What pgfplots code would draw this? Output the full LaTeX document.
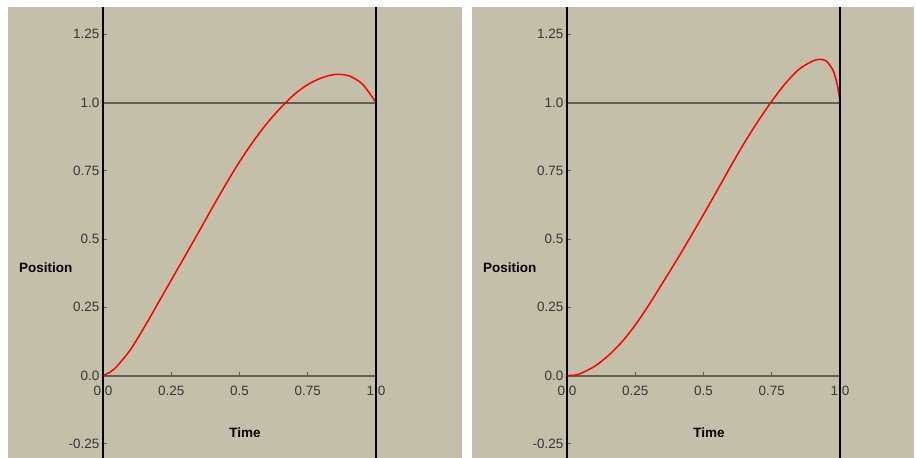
\documentclass[border=0pt]{standalone}
\usepackage{pgfplots}
\pgfplotsset{compat=1.18}
\usepackage{fontspec}
\setmainfont{Liberation Sans}
\definecolor{panelbg}{RGB}{195,191,168}
\definecolor{refline}{RGB}{95,95,85}
\definecolor{ticktext}{RGB}{55,55,55}
\definecolor{curvered}{RGB}{255,0,0}

\pgfplotsset{
 panel/.style={
  x=273pt, y=273pt,
  xmin=0, xmax=1, ymin=-0.302, ymax=1.3498,
  axis lines=middle,
  axis line style={-},
  x axis line style={draw=refline, line width=2pt},
  y axis line style={draw=black, line width=1.8pt},
  xtick={0,0.25,0.5,0.75,1},
  xticklabels={0.0,0.25,0.5,0.75,1.0},
  ytick={-0.25,0,0.25,0.5,0.75,1,1.25},
  yticklabels={-0.25,0.0,0.25,0.5,0.75,1.0,1.25},
  tick align=inside,
  major tick length=4pt,
  tick style={draw=refline, line width=1pt},
  ticklabel style={font=\fontsize{13.5}{16}\selectfont, text=ticktext},
  xticklabel style={yshift=-7pt},
  clip=false,
 },
}
\tikzset{
 zerolab/.style={font=\fontsize{13.5}{16}\selectfont, text=ticktext, inner sep=0.333em},
 axlab/.style={font=\bfseries\fontsize{13.5}{16}\selectfont},
}

\begin{document}
\begin{tikzpicture}
\useasboundingbox (0,0) rectangle (916pt,458pt);
\fill[panelbg] (8pt,0pt) rectangle (462pt,451pt);
\fill[panelbg] (472pt,0pt) rectangle (914pt,451pt);

% Left panel
\begin{axis}[panel, at={(103pt,0pt)}, anchor=south west]
 \addplot[refline, line width=2pt] coordinates {(0,1) (1,1)};
 \addplot[curvered, line width=1.5pt, smooth] coordinates {
  (0,0) (0.025,0.012) (0.05,0.033) (0.1,0.094) (0.15,0.175)
  (0.2,0.262) (0.25,0.35) (0.3,0.437) (0.35,0.525) (0.4,0.614) (0.45,0.701)
  (0.5,0.783) (0.55,0.857) (0.6,0.923) (0.65,0.98) (0.7,1.029) (0.75,1.066)
  (0.8,1.09) (0.85,1.103) (0.9,1.098) (0.95,1.068) (1.0,1.0)};
 \coordinate (La) at (axis cs:0,-0.302);
 \coordinate (Lb) at (axis cs:0,1.3498);
 \coordinate (Lc) at (axis cs:1,-0.302);
 \coordinate (Ld) at (axis cs:1,1.3498);
 \node[zerolab, anchor=east] at (axis cs:0,0) {0.0};
 \node[zerolab, anchor=north, yshift=-7pt] at (axis cs:0,0) {0.0};
 \node[axlab] at (axis cs:0.52,-0.21) {Time};
 \node[axlab] at (axis cs:-0.21,0.394) {Position};
\end{axis}
\draw[black, line width=1.8pt] (La) -- (Lb) (Lc) -- (Ld);

% Right panel
\begin{axis}[panel, at={(567pt,0pt)}, anchor=south west]
 \addplot[refline, line width=2pt] coordinates {(0,1) (1,1)};
 \addplot[curvered, line width=1.5pt, smooth] coordinates {
  (0,0) (0.04,0.004) (0.1,0.033) (0.15,0.072) (0.2,0.122) (0.25,0.185)
  (0.3,0.259) (0.35,0.339) (0.4,0.42) (0.45,0.504) (0.5,0.59) (0.55,0.678)
  (0.6,0.767) (0.65,0.853) (0.7,0.932) (0.75,1.005) (0.8,1.07) (0.85,1.122)
  (0.9,1.152) (0.925,1.158) (0.95,1.152) (0.975,1.117) (0.99,1.065) (1.0,1.005)};
 \coordinate (Ra) at (axis cs:0,-0.302);
 \coordinate (Rb) at (axis cs:0,1.3498);
 \coordinate (Rc) at (axis cs:1,-0.302);
 \coordinate (Rd) at (axis cs:1,1.3498);
 \node[zerolab, anchor=east] at (axis cs:0,0) {0.0};
 \node[zerolab, anchor=north, yshift=-7pt] at (axis cs:0,0) {0.0};
 \node[axlab] at (axis cs:0.52,-0.21) {Time};
 \node[axlab] at (axis cs:-0.21,0.394) {Position};
\end{axis}
\draw[black, line width=1.8pt] (Ra) -- (Rb) (Rc) -- (Rd);
\end{tikzpicture}
\end{document}
